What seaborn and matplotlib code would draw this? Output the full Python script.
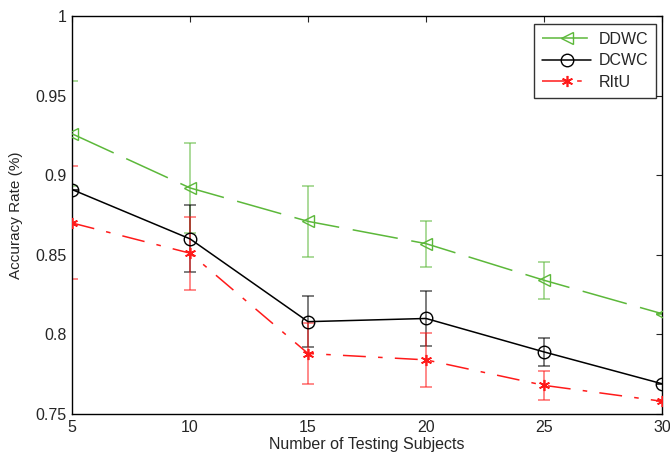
import matplotlib
matplotlib.use("Agg")
import matplotlib.pyplot as plt
import numpy as np
import pandas as pd
import seaborn as sns

subjects = [5, 10, 15, 20, 25, 30]

ddwc = [0.926, 0.892, 0.871, 0.857, 0.834, 0.813]
ddwc_err = [0.033, 0.028, 0.0225, 0.0145, 0.0115, 0.0]

dcwc = [0.891, 0.860, 0.808, 0.810, 0.789, 0.769]
dcwc_err = [0.0, 0.021, 0.016, 0.0175, 0.009, 0.0]

ritu = [0.870, 0.851, 0.788, 0.784, 0.768, 0.758]
ritu_err = [0.0355, 0.023, 0.019, 0.017, 0.009, 0.0]

series_names = ["DDWC", "DCWC", "RItU"]

sns.set_style("white")
plt.rcParams['font.family'] = ['Liberation Sans', 'DejaVu Sans']

df = pd.DataFrame({
    "subjects": subjects * 3,
    "acc": ddwc + dcwc + ritu,
    "method": np.repeat(series_names, len(subjects)),
})

colors = {"DDWC": "#5cb83a", "DCWC": "black", "RItU": "#ff1a1a"}
markers = {"DDWC": "<", "DCWC": "o", "RItU": "*"}
dashes = {"DDWC": (30, 9), "DCWC": "", "RItU": (15, 8, 3, 8)}
errs = {"DDWC": ddwc_err, "DCWC": dcwc_err, "RItU": ritu_err}

fig = plt.figure(figsize=(6.7, 4.54), dpi=100)
ax = fig.add_axes([0.1075, 0.0881, 0.8806, 0.8767])

sns.lineplot(data=df, x="subjects", y="acc", hue="method", style="method",
             palette=colors, markers=markers, dashes=dashes, ax=ax,
             linewidth=1.1, markersize=9, markerfacecolor="none",
             markeredgewidth=1.0, zorder=3)

# matlab-style asterisk instead of a filled star
def fix_marker(line):
    line.set_markeredgecolor(line.get_color())
    if line.get_marker() == "*":
        line.set_marker((6, 2, 0))
        line.set_markersize(8)
        line.set_markeredgewidth(1.2)

for line in ax.get_lines():
    fix_marker(line)

for name in series_names:
    sub = df[df["method"] == name]
    ax.errorbar(sub["subjects"], sub["acc"], yerr=errs[name], fmt="none",
                ecolor=colors[name], alpha=0.6, elinewidth=1.2, capsize=4,
                capthick=1.2, zorder=2)

ax.set_xlim(5, 30)
ax.set_ylim(0.75, 1.0)
ax.set_xticks([5, 10, 15, 20, 25, 30])
ax.set_yticks([0.75, 0.8, 0.85, 0.9, 0.95, 1.0])
ax.set_yticklabels(["0.75", "0.8", "0.85", "0.9", "0.95", "1"])
ax.tick_params(direction="in", top=True, right=True, labelsize=11.5, length=4,
               width=0.8, pad=4)
for s in ax.spines.values():
    s.set_color("black")
    s.set_linewidth(1.0)

ax.set_xlabel("Number of Testing Subjects", fontsize=11.5, labelpad=2)
ax.set_ylabel("Accuracy Rate (%)", fontsize=11, labelpad=9)

leg = ax.legend(loc="upper right", fontsize=11.5, frameon=True, fancybox=False,
                edgecolor="black", handlelength=3.1, borderpad=0.5,
                labelspacing=0.4, handletextpad=0.45, borderaxespad=0,
                bbox_to_anchor=(0.99, 0.98))
leg.get_frame().set_linewidth(1.0)
for line in leg.get_lines():
    fix_marker(line)

fig.savefig("out.png", dpi=100)
